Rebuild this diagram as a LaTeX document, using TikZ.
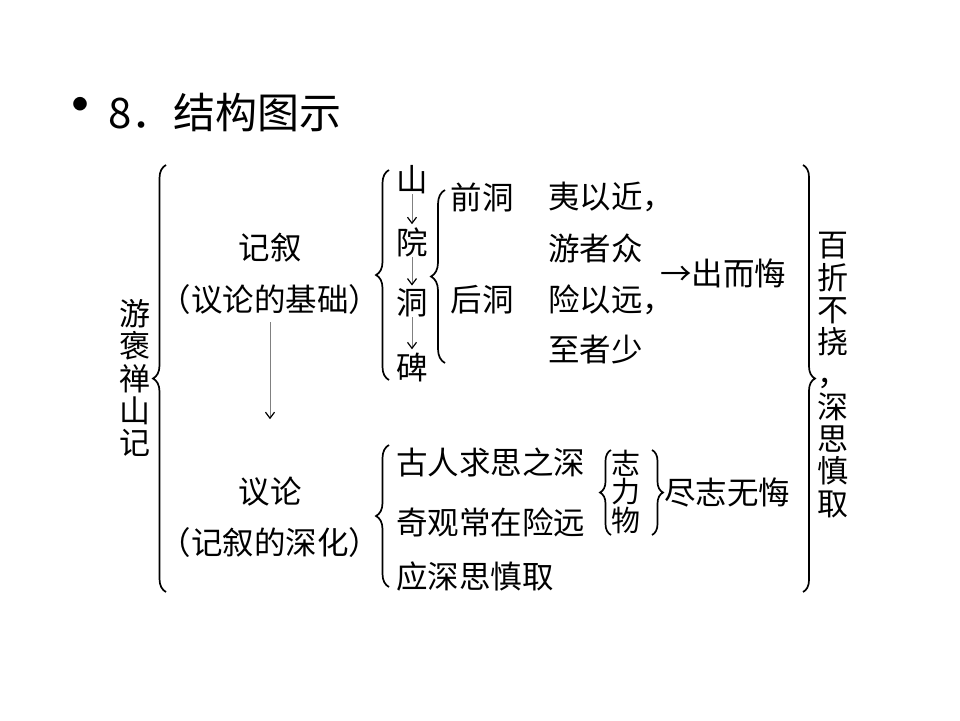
\documentclass[tikz,border=0pt]{standalone}
\usepackage{fontspec}
\setmainfont{Noto Sans CJK SC}
\usetikzlibrary{decorations.pathreplacing,arrows.meta}

\begin{document}
\begin{tikzpicture}
[%%%%%%%%%%%%%%%%%%%%%%%%%%%%%%
x=1pt,y=-1pt,
txt/.style={inner sep=0pt,font=\fontsize{31.5}{31.5}\selectfont},
vtxt/.style={inner sep=0pt,align=center,font=\fontsize{31}{32.3}\selectfont},
brc/.style={decorate,decoration={brace,amplitude=#1},line width=1.7pt},
arr/.style={draw=gray,line width=0.9pt,-{Straight Barb[black,length=6pt,width=9pt,line width=1.2pt]}},
]%%%%%%%%%%%%%%%%%%%%%%%%%%%%%%
\useasboundingbox (0,0) rectangle (960,720);

% title
\node[inner sep=0pt,font=\fontsize{64}{64}\selectfont] (dot) at (80,113){•};
\node[inner sep=0pt,anchor=west,font=\fontsize{42}{42}\selectfont] (title) at (108,113){8．结构图示};

% left side
\node[vtxt] (youji) at (135,378){游\\褒\\禅\\山\\记};
\draw[brc=13pt] (166,592) -- (166,165);
\node[txt] (jixu) at (270,248){记叙};
\node[txt] (jixubase) at (270,300){（议论的基础）};
\node[txt] (yilun) at (270,492){议论};
\node[txt] (yilunshen) at (270,543){（记叙的深化）};
\draw[arr,shorten <=7pt,shorten >=58pt] (jixubase) -- (yilun);

% narrative part
\draw[brc=13pt] (389,380) -- (389,170);
\node[txt] (shan) at (412,180){山};
\node[txt] (yuan) at (412,242){院};
\node[txt] (dong) at (412,303){洞};
\node[txt] (bei) at (412,367){碑};
\draw[arr,shorten >=3pt] (shan) -- (yuan);
\draw[arr,shorten >=3pt] (yuan) -- (dong);
\draw[arr,shorten >=3pt] (dong) -- (bei);
\draw[brc=14pt] (445,363) -- (445,190);
\node[txt] (qiandong) at (482,197){前洞};
\node[txt] (houdong) at (482,300){后洞};
\node[txt,anchor=west] (yiyi) at (548,197){夷以近，};
\node[txt,anchor=west] (youzhe) at (548,248){游者众};
\node[txt,anchor=west] (xianyi) at (548,300){险以远，};
\node[txt,anchor=west] (zhizhe) at (548,350){至者少};
\node[txt,anchor=west] (chuer) at (660,273){→出而悔};

% argument part
\draw[brc=13pt] (389,587) -- (389,445);
\node[txt,anchor=west] (guren) at (396,462){古人求思之深};
\node[txt,anchor=west] (qiguan) at (396,522){奇观常在险远};
\node[txt,anchor=west] (yingshen) at (396,577){应深思慎取};
\draw[brc=11pt] (611,535) -- (611,450);
\node[txt,font=\fontsize{29}{29}\selectfont] (zhi) at (626,463){志};
\node[txt,font=\fontsize{29}{29}\selectfont] (li) at (626,492){力};
\node[txt,font=\fontsize{29}{29}\selectfont] (wu) at (626,520){物};
\draw[brc=11pt] (652,450) -- (652,535);
\node[txt,anchor=west] (jinzhi) at (664,492){尽志无悔};

% right side
\draw[brc=12pt] (803,165) -- (803,592);
\node[vtxt] (baizhe) at (833,375){百\\折\\不\\挠\\，\\深\\思\\慎\\取};
\end{tikzpicture}
\end{document}
